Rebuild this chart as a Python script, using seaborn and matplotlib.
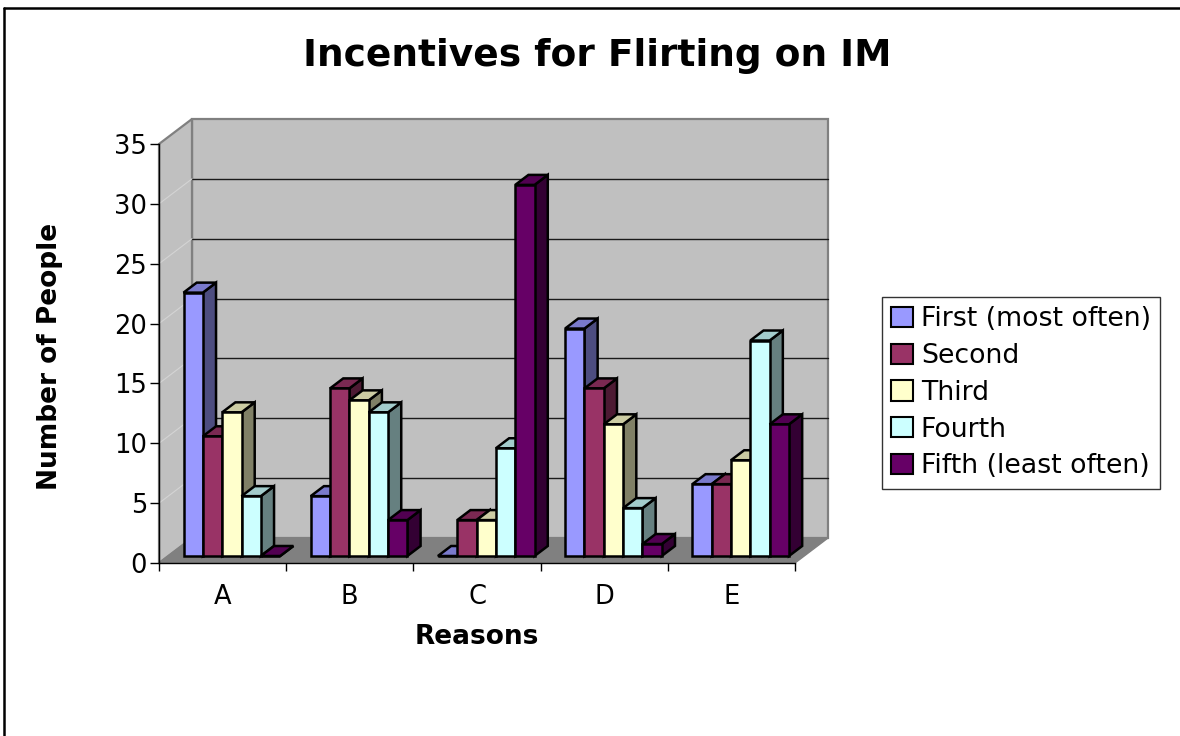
import matplotlib
matplotlib.use("Agg")
import matplotlib.pyplot as plt
import seaborn as sns
import numpy as np
import pandas as pd
from matplotlib.patches import Polygon, Patch, Rectangle
from matplotlib.lines import Line2D
from matplotlib.colors import to_rgb

# ---------------- data ----------------
categories = ["A", "B", "C", "D", "E"]
series = ["First (most often)", "Second", "Third", "Fourth", "Fifth (least often)"]
first = [22, 5, 0, 19, 6]
second = [10, 14, 3, 14, 6]
third = [12, 13, 3, 11, 8]
fourth = [5, 12, 9, 4, 18]
fifth = [0, 3, 31, 1, 11]
colors = ["#9999FF", "#993366", "#FFFFCC", "#CCFFFF", "#660066"]
yticks = [0, 5, 10, 15, 20, 25, 30, 35]

values = [first, second, third, fourth, fifth]
df = pd.DataFrame({
    "Reason": [c for s in series for c in categories],
    "Rank": [s for s in series for c in categories],
    "Count": [v for vals in values for v in vals],
})

# ---------------- figure ----------------
sns.set_style("white")
plt.rcParams["font.family"] = ["DejaVu Sans"]
plt.rcParams["text.color"] = "black"
plt.rcParams["axes.labelcolor"] = "black"
plt.rcParams["xtick.color"] = "black"
plt.rcParams["ytick.color"] = "black"

W, H = 1180, 736
fig = plt.figure(figsize=(W / 100, H / 100), dpi=100)
ax = fig.add_axes([159 / W, (H - 563) / H, 636 / W, 419 / H])
ax.patch.set_visible(False)

sns.barplot(data=df, x="Reason", y="Count", hue="Rank", order=categories,
            hue_order=series, palette=colors, width=0.76, ax=ax,
            legend=False, errorbar=None, saturation=1)
bars = sorted([p for p in ax.patches if isinstance(p, Rectangle)], key=lambda p: p.get_x())

ax.set_xlim(-0.5, 4.5)
ax.set_ylim(0, 35)

# depth offset (display px -> data units)
inv = ax.transData.inverted()
p0 = ax.transData.transform((0, 0))
def dvec(px, py):
    q = inv.transform(p0 + np.array([px, py]))
    return q[0], q[1]

Dx, Dy = dvec(33, 25)          # full depth of the floor
x0l, x1r = -0.5, 4.5
ytop = 35

# back wall
ax.add_patch(Polygon([(x0l + Dx, Dy), (x1r + Dx, Dy), (x1r + Dx, ytop + Dy), (x0l + Dx, ytop + Dy)],
                     closed=True, facecolor="#C0C0C0", edgecolor="#808080", lw=1.6,
                     zorder=0.1, clip_on=False))
# left wall
ax.add_patch(Polygon([(x0l, 0), (x0l, ytop), (x0l + Dx, ytop + Dy), (x0l + Dx, Dy)],
                     closed=True, facecolor="#C0C0C0", edgecolor="#808080", lw=1.6,
                     zorder=0.15, clip_on=False))
# floor
ax.add_patch(Polygon([(x0l, 0), (x1r, 0), (x1r + Dx, Dy), (x0l + Dx, Dy)],
                     closed=True, facecolor="#808080", edgecolor="#808080", lw=1.0,
                     zorder=0.2, clip_on=False))
# gridlines on the back wall and faint ones on the side wall
for t in yticks[1:-1]:
    ax.add_line(Line2D([x0l + Dx, x1r + Dx], [t + Dy, t + Dy], color="#1a1a1a", lw=1.0,
                       zorder=0.3, clip_on=False))
    ax.add_line(Line2D([x0l, x0l + Dx], [t, t + Dy], color="#d4d4d4", lw=0.8,
                       zorder=0.3, clip_on=False))

# 3D bars
fb, fd = 0.28, 0.40
fbx, fby = Dx * fb, Dy * fb
fdx, fdy = Dx * fd, Dy * fd

def shade(c, k):
    r, g, b = to_rgb(c)
    return (r * k, g * k, b * k)

for i, p in enumerate(bars):
    fc = p.get_facecolor()
    x0 = p.get_x() + fbx
    w = p.get_width()
    h = p.get_height()
    y0 = fby
    y1 = y0 + h
    z = 1 + i * 0.01
    side = Polygon([(x0 + w, y0), (x0 + w, y1), (x0 + w + fdx, y1 + fdy), (x0 + w + fdx, y0 + fdy)],
                   closed=True, facecolor=shade(fc, 0.5), edgecolor="black", lw=1.8,
                   joinstyle="miter", zorder=z, clip_on=False)
    top = Polygon([(x0, y1), (x0 + w, y1), (x0 + w + fdx, y1 + fdy), (x0 + fdx, y1 + fdy)],
                  closed=True, facecolor=shade(fc, 0.8), edgecolor="black", lw=1.8,
                  joinstyle="miter", zorder=z + 0.001, clip_on=False)
    ax.add_patch(side)
    ax.add_patch(top)
    p.set_x(x0)
    p.set_y(y0)
    p.set_edgecolor("black")
    p.set_linewidth(1.8)
    p.set_joinstyle("miter")
    p.set_zorder(z + 0.002)
    p.set_clip_on(False)

# axes styling
for s in ["top", "right"]:
    ax.spines[s].set_visible(False)
for s in ["left", "bottom"]:
    ax.spines[s].set_color("black")
    ax.spines[s].set_linewidth(1.0)
    ax.spines[s].set_zorder(5)

ax.set_yticks(yticks)
ax.set_yticklabels([str(t) for t in yticks])
ax.tick_params(axis="y", which="major", direction="out", length=6.5, width=1,
               color="black", labelcolor="black", pad=2, labelsize=18.5, left=True)
ax.set_xticks(range(len(categories)))
ax.set_xticklabels(categories)
ax.set_xticks(np.arange(-0.5, 5.0, 1.0), minor=True)
ax.tick_params(axis="x", which="major", length=0, pad=15, labelsize=18.5, labelcolor="black")
ax.tick_params(axis="x", which="minor", direction="out", length=6, width=1,
               color="black", bottom=True)
ax.grid(False)

ax.set_xlabel("Reasons", fontsize=19, fontweight="bold", color="black")
ax.xaxis.set_label_coords(0.5, (563 - 637) / 419)
ax.xaxis.label.set_va("center")
ax.set_ylabel("Number of People", fontsize=19, fontweight="bold", color="black")
ax.yaxis.set_label_coords((50 - 159) / 636, (563 - 356) / 419)
ax.yaxis.label.set_va("center")

fig.text(597.5 / W, 1 - 56 / H, "Incentives for Flirting on IM", ha="center", va="center",
         fontsize=27, fontweight="bold", color="black")

handles = [Patch(facecolor=c, edgecolor="black", lw=1.5) for c in colors]
leg = fig.legend(handles, series, loc="upper left", bbox_to_anchor=(882 / W, 1 - 297 / H),
                 frameon=True, fancybox=False, shadow=False, fontsize=19.3,
                 handlelength=0.8, handleheight=0.8, handletextpad=0.3,
                 labelspacing=0.4, borderpad=0.35, borderaxespad=0, labelcolor="black")
leg.get_frame().set_edgecolor("black")
leg.get_frame().set_linewidth(1.0)
leg.get_frame().set_facecolor("white")

# chart border (left and top visible)
fig.add_artist(Line2D([4 / W, 4 / W], [0, 1 - 8 / H], color="black", lw=1.8))
fig.add_artist(Line2D([4 / W, 1.02], [1 - 8 / H, 1 - 8 / H], color="black", lw=1.8))

fig.savefig("out.png", dpi=100, facecolor="white")
